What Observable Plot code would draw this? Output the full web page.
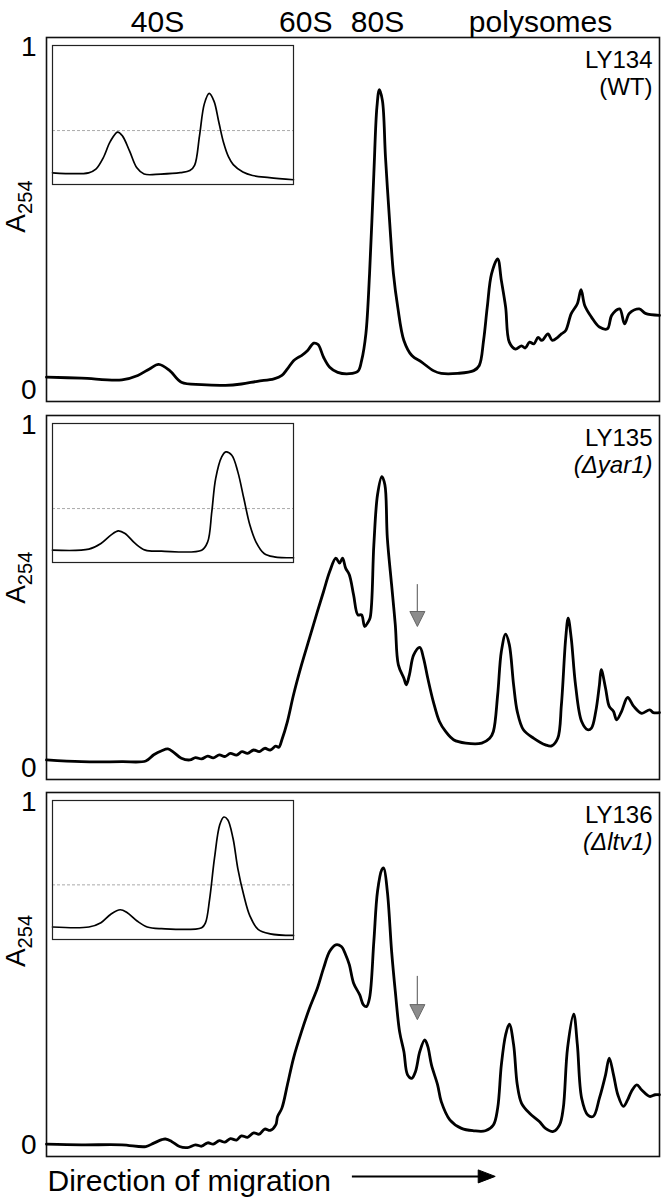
<!DOCTYPE html>
<html><head><meta charset="utf-8">
<script src="https://cdn.jsdelivr.net/npm/d3@7"></script>
<script src="https://cdn.jsdelivr.net/npm/@observablehq/plot@0.6"></script>
<style>
body{margin:0;background:#fff;}
#fig{position:relative;width:668px;height:1200px;font-family:"Liberation Sans",Arial,Helvetica,sans-serif;}
#fig svg{position:absolute;left:0;overflow:visible;}
</style></head><body><div id="fig"></div>
<script>
// ---- header fraction labels (position along gradient, 0-100) ----
const fractionNames = ["40S", "60S", "80S", "polysomes"];
const fractionPos = [18.1, 42.3, 54.0, 80.6];

// ---- main profiles: position along gradient (0-100) and A254 ----
const wtPos = [0,5.7,12.3,14.9,16.8,18.3,20.1,22.0,25.3,29.2,31.8,34.4,37.1,38.4,39.3,40.3,41.0,41.6,42.6,43.6,44.3,45.2,46.2,47.5,49.4,50.8,51.4,52.1,52.7,53.4,53.9,54.3,54.8,55.3,56.0,56.6,57.3,58.3,59.6,61.2,63.1,64.4,67.1,69.7,70.6,71.3,71.9,72.6,73.6,74.2,74.9,75.5,76.5,77.5,78.1,78.8,79.5,80.2,80.8,81.8,82.5,83.4,84.0,84.7,85.6,86.6,87.2,87.8,88.9,90.2,91.5,92.2,93.5,94.3,95.1,96.7,97.7,100];
const wtA254 = [0.039,0.036,0.031,0.044,0.063,0.076,0.058,0.024,0.017,0.015,0.019,0.027,0.034,0.044,0.063,0.087,0.096,0.102,0.117,0.138,0.134,0.097,0.068,0.053,0.049,0.056,0.087,0.165,0.340,0.632,0.826,0.877,0.845,0.680,0.486,0.340,0.243,0.146,0.102,0.083,0.058,0.050,0.050,0.058,0.073,0.146,0.243,0.340,0.384,0.321,0.243,0.141,0.121,0.130,0.124,0.141,0.136,0.155,0.146,0.165,0.146,0.155,0.165,0.175,0.224,0.253,0.294,0.248,0.214,0.185,0.180,0.219,0.238,0.194,0.225,0.238,0.225,0.219];

const yar1Pos = [0,5.7,12.3,16.2,17.5,18.8,19.8,20.7,22.0,23.4,24.3,25.3,26.3,27.2,28.2,29.1,30.0,31.0,31.9,32.8,33.8,34.7,35.6,36.5,37.4,37.9,38.4,39.3,40.3,41.6,42.9,44.2,45.2,46.2,47.2,47.8,48.3,48.8,49.4,50.1,50.8,51.4,51.9,52.4,52.8,53.4,54.0,54.7,55.2,55.6,56.3,56.9,57.4,58.3,58.7,59.2,59.9,60.9,61.5,62.2,63.1,64.1,65.1,66.4,68.4,71.0,72.3,72.9,73.6,74.2,74.9,75.5,76.2,76.8,77.8,79.5,81.4,82.4,83.4,84.0,84.7,85.1,85.6,86.3,87.3,88.3,88.9,89.6,90.2,90.5,91.2,91.8,92.5,93.0,93.8,94.8,95.8,97.1,98.4,99.0,100];
const yar1A254 = [0.025,0.020,0.020,0.022,0.040,0.052,0.057,0.048,0.030,0.025,0.032,0.028,0.036,0.031,0.040,0.035,0.044,0.039,0.049,0.044,0.054,0.049,0.059,0.054,0.065,0.062,0.084,0.137,0.215,0.302,0.380,0.458,0.516,0.574,0.613,0.599,0.613,0.584,0.565,0.506,0.448,0.448,0.414,0.425,0.440,0.652,0.798,0.851,0.827,0.672,0.535,0.419,0.302,0.263,0.244,0.273,0.331,0.353,0.322,0.263,0.195,0.137,0.108,0.084,0.074,0.074,0.088,0.108,0.215,0.341,0.392,0.361,0.244,0.166,0.113,0.088,0.069,0.066,0.088,0.186,0.380,0.438,0.380,0.244,0.137,0.113,0.118,0.166,0.244,0.288,0.234,0.181,0.166,0.142,0.166,0.207,0.181,0.161,0.171,0.163,0.163];

const ltv1Pos = [0,5.7,12.3,16.2,17.5,18.8,19.4,20.4,21.7,23.0,24.3,25.3,26.3,27.2,28.2,29.1,30.0,31.0,31.8,32.8,33.8,34.7,35.6,36.5,37.4,37.7,38.4,39.3,40.3,41.6,42.9,44.2,45.2,46.2,47.2,48.1,48.8,49.4,50.1,51.1,51.7,52.2,52.7,53.4,54.0,54.7,55.0,55.6,56.3,56.9,57.6,58.3,58.9,59.6,60.2,60.9,61.7,62.2,62.8,63.8,64.4,65.8,67.7,69.7,71.6,72.9,73.6,74.2,74.9,75.5,76.2,76.8,77.5,78.8,80.4,81.4,82.7,83.7,84.3,85.0,86.0,86.6,87.3,88.3,89.2,90.2,91.2,91.8,92.5,93.2,94.1,94.8,95.4,96.3,97.1,98.4,99.3,100];
const ltv1A254 = [0.004,0.002,0.002,-0.003,0.007,0.017,0.019,0.012,-0.003,-0.006,0.002,-0.002,0.008,0.004,0.014,0.010,0.020,0.016,0.028,0.024,0.037,0.033,0.048,0.044,0.060,0.085,0.109,0.177,0.255,0.332,0.400,0.459,0.517,0.566,0.585,0.580,0.556,0.527,0.473,0.439,0.410,0.405,0.430,0.595,0.741,0.804,0.809,0.741,0.566,0.449,0.332,0.274,0.206,0.196,0.216,0.274,0.308,0.289,0.235,0.177,0.128,0.075,0.050,0.043,0.043,0.060,0.109,0.235,0.323,0.354,0.294,0.177,0.123,0.094,0.070,0.050,0.041,0.060,0.109,0.284,0.383,0.294,0.138,0.089,0.085,0.138,0.206,0.255,0.206,0.148,0.114,0.133,0.157,0.177,0.162,0.143,0.148,0.148];

// ---- inset profiles (40S / 60S subunit gradients), position 0-100, relative A254 0-1 ----
const wtInsetPos = [0,15,18,21,24,27,29,32,35,38,45,53,57,59,61,63,65,67,69,71,73,75,79,83,90,100];
const wtInsetA = [0.084,0.084,0.11,0.19,0.31,0.377,0.35,0.24,0.12,0.075,0.075,0.085,0.10,0.14,0.35,0.58,0.655,0.60,0.45,0.30,0.20,0.143,0.09,0.065,0.05,0.034];
const yar1InsetPos = [0,15.1,20.1,24.2,27.3,30.1,34.3,38.5,45.2,61.9,64.4,66.1,67.7,70.2,71.9,74.4,76.9,79.4,81.9,84.4,87.8,92.0,100];
const yar1InsetA = [0.089,0.096,0.137,0.197,0.228,0.209,0.137,0.089,0.082,0.089,0.149,0.365,0.604,0.760,0.796,0.772,0.652,0.460,0.269,0.149,0.065,0.041,0.034];
const ltv1InsetPos = [0,15.1,20.1,24.2,28.1,30.9,35.1,39.3,45.2,61.9,63.5,65.2,67.2,69.4,71.1,72.7,74.9,76.9,79.4,81.9,85.3,90.3,100];
const ltv1InsetA = [0.090,0.090,0.121,0.182,0.214,0.194,0.133,0.090,0.078,0.085,0.121,0.291,0.583,0.825,0.881,0.862,0.728,0.510,0.316,0.170,0.073,0.041,0.029];
const insetRefLevel = [0.388, 0.388, 0.393];

// ---- labels ----
const strains = ["LY134", "LY135", "LY136"];
const genotypes = ["(WT)", "(Δyar1)", "(Δltv1)"];
const genotypeItalic = [false, true, true];
const yLabel = "A254";
const yTicks = [0, 1];
const xCaption = "Direction of migration";

// ---- grey arrows marking the half-mer shoulder (panels 2, 3) ----
const markPos = [null, 60.5, 60.5];
const markFrom = [null, 0.536, 0.493];
const markTo = [null, 0.414, 0.367];

// ---- migration arrow under bottom panel ----
const migArrowX1 = 49.9, migArrowX2 = 73.2, migArrowY = -0.09;

const rows = (xs, ys) => xs.map((x, i) => ({x, y: ys[i]}));
const downTri = {draw(ctx){ ctx.moveTo(0,0); ctx.lineTo(-7.5,-15); ctx.lineTo(7.5,-15); ctx.closePath(); }};
const rightTri = {draw(ctx){ ctx.moveTo(0,0); ctx.lineTo(-17,-6.5); ctx.lineTo(-17,6.5); ctx.closePath(); }};

const fig = document.getElementById("fig");
const FONT = '"Liberation Sans", Arial, Helvetica, sans-serif';

const panels = [
  {pos: wtPos, val: wtA254, ip: wtInsetPos, iv: wtInsetA, top: 0, height: 408, mt: 37, mb: 7, labelY: 0.46},
  {pos: yar1Pos, val: yar1A254, ip: yar1InsetPos, iv: yar1InsetA, top: 408, height: 377, mt: 7, mb: 6, labelY: 0.48},
  {pos: ltv1Pos, val: ltv1A254, ip: ltv1InsetPos, iv: ltv1InsetA, top: 785, height: 415, mt: 7, mb: 44, labelY: 0.52}
];

panels.forEach((p, k) => {
  const marks = [
    Plot.frame({stroke: "#111", strokeWidth: 1.6}),
    Plot.line(rows(p.pos, p.val), {x: "x", y: "y", stroke: "#000", strokeWidth: 2.8, curve: "catmull-rom", strokeLinejoin: "round"}),
    Plot.text([yLabel], {text: d => d, frameAnchor: "left", y: () => p.labelY, dx: -30, rotate: -90, fontSize: 28, fill: "#000"}),
    Plot.text([strains[k]], {text: d => d, frameAnchor: "top-right", textAnchor: "end", lineAnchor: "bottom", dx: -7, dy: 30, fontSize: 24, fill: "#000"}),
    Plot.text([genotypes[k]], {text: d => d, frameAnchor: "top-right", textAnchor: "end", lineAnchor: "bottom", dx: -7, dy: 57, fontSize: 24, fill: "#000", fontStyle: genotypeItalic[k] ? "italic" : "normal"})
  ];
  if (k === 0) {
    marks.push(Plot.text(fractionNames, {x: (d, i) => fractionPos[i], text: d => d, frameAnchor: "top", dy: -27, fontSize: 30, fill: "#000"}));
  }
  if (markPos[k] != null) {
    marks.push(Plot.ruleX([markPos[k]], {x: d => d, y1: markFrom[k], y2: markTo[k] + 0.03, stroke: "#777", strokeWidth: 1.3}));
    marks.push(Plot.dot([markPos[k]], {x: d => d, y: markTo[k], symbol: downTri, fill: "#8c8c8c", stroke: "#666", strokeWidth: 1}));
  }
  if (k === 2) {
    marks.push(Plot.text([xCaption], {text: d => d, frameAnchor: "bottom-left", textAnchor: "start", lineAnchor: "bottom", dx: 1, dy: 34, fontSize: 30, fill: "#000"}));
    marks.push(Plot.ruleY([migArrowY], {y: d => d, x1: migArrowX1, x2: migArrowX2 - 1.5, stroke: "#000", strokeWidth: 2}));
    marks.push(Plot.dot([migArrowX2], {x: d => d, y: migArrowY, symbol: rightTri, fill: "#000", stroke: "#000", strokeWidth: 1}));
  }
  const svg = Plot.plot({
    width: 668, height: p.height,
    marginLeft: 46, marginRight: 9, marginTop: p.mt, marginBottom: p.mb,
    style: {fontFamily: FONT, fontSize: "28px", color: "#000", background: "transparent", overflow: "visible"},
    x: {domain: [0, 100], axis: null},
    y: {domain: [-0.032, 1.029], ticks: yTicks, tickSize: 0, tickPadding: 10, tickFormat: d => String(d), label: null},
    marks
  });
  svg.style.top = p.top + "px";
  fig.appendChild(svg);
  // subscript for A254
  svg.querySelectorAll("text").forEach(t => {
    if (t.textContent === yLabel) {
      t.textContent = "";
      const a = document.createElementNS("http://www.w3.org/2000/svg", "tspan");
      a.textContent = "A";
      const s = document.createElementNS("http://www.w3.org/2000/svg", "tspan");
      s.textContent = "254"; s.setAttribute("dy", "0.3em"); s.setAttribute("font-size", "0.72em");
      t.appendChild(a); t.appendChild(s);
    }
  });

  // inset
  const inset = Plot.plot({
    width: 243, height: 141,
    marginLeft: 1, marginRight: 1, marginTop: 1, marginBottom: 1,
    style: {background: "white", overflow: "visible"},
    x: {domain: [0, 100], axis: null},
    y: {domain: [0, 1], axis: null},
    marks: [
      Plot.ruleY([insetRefLevel[k]], {y: d => d, stroke: "#aaa", strokeWidth: 1, strokeDasharray: "3,2"}),
      Plot.line(rows(p.ip, p.iv), {x: "x", y: "y", stroke: "#000", strokeWidth: 1.7, curve: "catmull-rom"}),
      Plot.frame({stroke: "#222", strokeWidth: 1.2})
    ]
  });
  inset.style.left = "51px";
  inset.style.top = (p.top + p.mt + 7) + "px";
  fig.appendChild(inset);
});
</script></body></html>
